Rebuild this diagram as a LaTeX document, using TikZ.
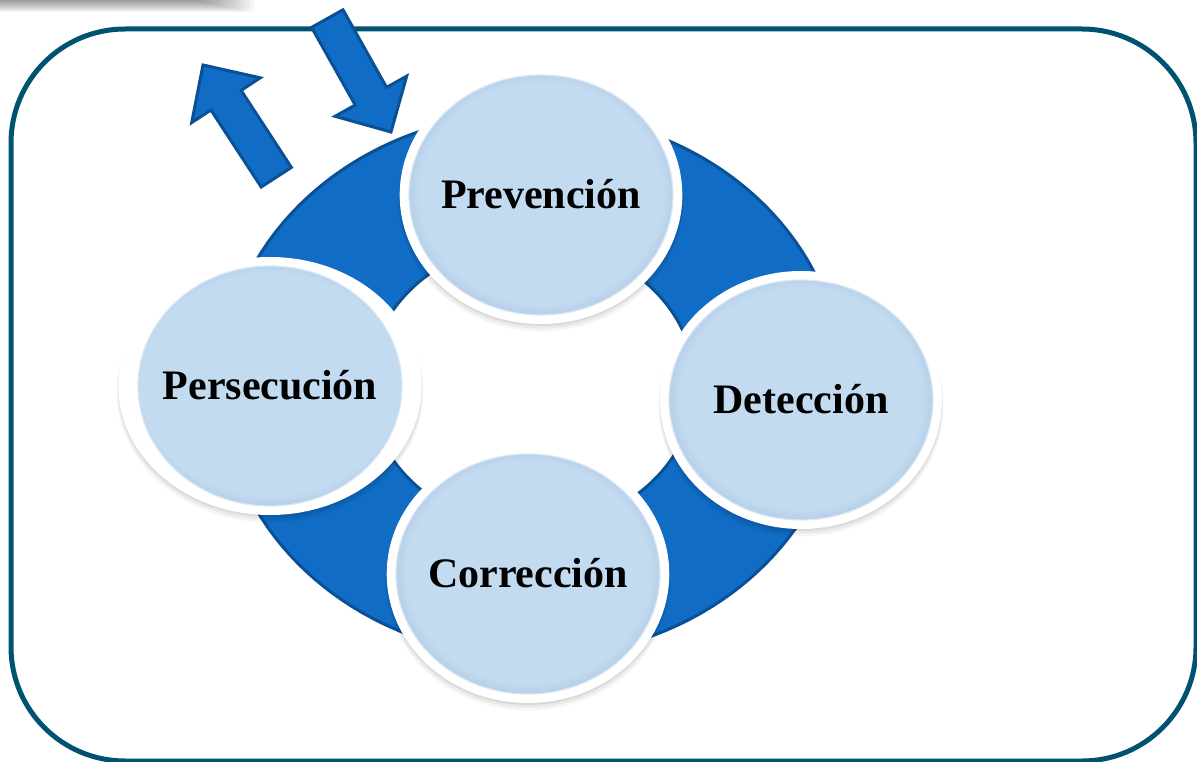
\documentclass[tikz,border=0pt]{standalone}
\usepackage{fontspec}
\setmainfont{Liberation Serif}
\usetikzlibrary{shapes.geometric,shadows}

\definecolor{framecol}{RGB}{0,83,112}
\definecolor{ringblue}{RGB}{16,108,196}
\definecolor{ringedge}{RGB}{10,80,150}
\definecolor{bubfill}{RGB}{194,219,241}
\definecolor{bubmid}{RGB}{180,204,228}
\definecolor{bubedge}{RGB}{140,162,188}
\definecolor{bubrim}{RGB}{216,232,247}

% soft inner shadow of the stage discs, slightly darker towards the bottom
\pgfdeclareradialshading{bubble}{\pgfpoint{0bp}{0.6bp}}{%
  color(0bp)=(bubfill); color(21.5bp)=(bubfill); color(24bp)=(bubmid);
  color(25bp)=(bubedge); color(50bp)=(bubedge)}

\tikzset{
  stage/.style={
    ellipse, minimum width=282pt, minimum height=258pt, inner sep=0pt,
    fill=white,
    general shadow={fill=black, opacity=0.04, shadow scale=1.01, shadow yshift=-6pt},
    general shadow={fill=black, opacity=0.05, shadow scale=1.005, shadow yshift=-4pt},
    general shadow={fill=black, opacity=0.07, shadow scale=1.0, shadow yshift=-2pt},
    path picture={
      \shade[shading=bubble] (path picture bounding box.center)
        ellipse [x radius=132pt, y radius=120pt];
      \draw[bubrim, line width=1.2pt] (path picture bounding box.center)
        ellipse [x radius=132pt, y radius=120pt];
    },
    font=\fontsize{42}{46}\selectfont\bfseries,
    text height=27.8pt, text depth=0pt
  },
  blockarrow/.style={fill=ringblue, draw=ringedge, line width=3pt, line join=miter},
  ringline/.style={ringedge, line width=3pt}
}

\begin{document}
\begin{tikzpicture}[x=1pt,y=-1pt]
  \useasboundingbox (0,0) rectangle (1197,762);

  % soft grey shadow strip along the top-left edge
  \foreach \k in {0,...,12}
    \fill[black, opacity=0.04, rounded corners=6pt] (-30,-30) rectangle (200+4.5*\k, \k);

  % outer frame
  \draw[framecol, line width=5pt, rounded corners=114pt] (11,29) rectangle (1196,761);

  % the cycle ring
  \fill[ringblue, even odd rule]
    (532,385) ellipse [x radius=310, y radius=272]
    (532,385) ellipse [x radius=163, y radius=143];
  \draw[ringline] (532,385) ellipse [x radius=310, y radius=272];
  \draw[ringline] (532,385) ellipse [x radius=163, y radius=143];

  % outgoing and incoming block arrows
  \draw[blockarrow] (261.2,187.0) -- (210.9,110.0) -- (191.7,122.6) -- (203,65)
    -- (260.3,77.8) -- (241.1,90.4) -- (291.4,167.4) -- cycle;
  \draw[blockarrow] (343.0,9.8) -- (386.6,87.4) -- (406.7,76.1) -- (391,132)
    -- (335.1,116.3) -- (355.2,105.0) -- (311.6,27.4) -- cycle;

  % the four stages
  \node[stage] (prev) at (541,195) {Prevención};
  \node[stage] (pers) at (270,386) {Persecución};
  \node[stage] (dete) at (801,400) {Detección};
  \node[stage] (corr) at (528,574) {Corrección};
\end{tikzpicture}
\end{document}
